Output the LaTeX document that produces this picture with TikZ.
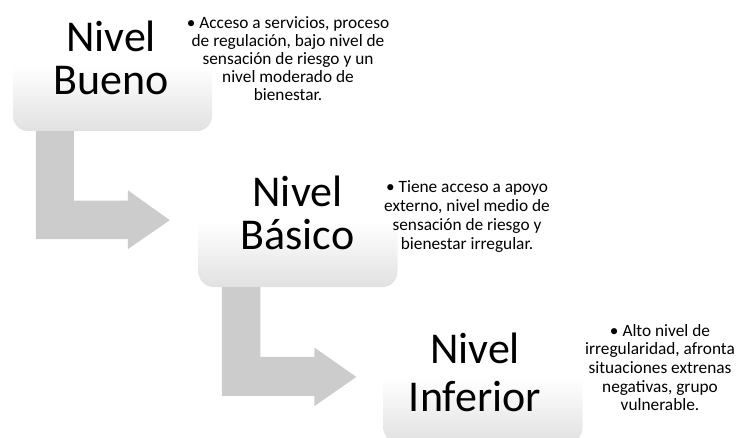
\documentclass[tikz,border=0pt]{standalone}
\usepackage{fontspec}
\setmainfont{Carlito}
\definecolor{boxgray}{RGB}{225,225,225}
\definecolor{arrowgray}{RGB}{204,204,204}
\pgfdeclareverticalshading{boxshade}{100bp}{color(0bp)=(boxgray); color(25bp)=(boxgray); color(52bp)=(white); color(100bp)=(white)}
\newcommand{\mystack}[2]{\vtop{\baselineskip=#1\lineskiplimit=-100pt\relax\halign{\hfil##\hfil\cr#2\crcr}}}
\tikzset{
  boxshape/.style={rectangle, rounded corners=15pt, minimum width=199pt, minimum height=120pt, inner sep=0pt, shading=boxshade, draw=none},
  bendarrow/.style={fill=arrowgray, draw=none},
  title/.style={anchor=base, inner sep=0pt, font=\fontsize{44}{42}\selectfont},
  desc/.style={anchor=base, inner sep=0pt, font=\fontsize{17.3}{18}\selectfont},
}
\begin{document}
\begin{tikzpicture}[x=1pt, y=-1pt]
\useasboundingbox (0,0) rectangle (738,438);
\clip (0,0) rectangle (738,438);
% boxes
\node[boxshape] (box1) at (112.5,71) {};
\node[boxshape] (box2) at (298,227) {};
\node[boxshape] (box3) at (483,383) {};
% bent arrows
\fill[bendarrow, shift={(box1.south west)}] (23,0) -- (61,0) -- (61,69.5) -- (115,69.5) -- (115,59) -- (157,89) -- (115,118) -- (115,108) -- (23,108) -- cycle;
\fill[bendarrow, shift={(box2.south west)}] (23.5,0) -- (62,0) -- (62,69.7) -- (116,69.7) -- (116,60.3) -- (158,89.7) -- (116,119) -- (116,108.7) -- (23.5,108.7) -- cycle;
% titles
\node[title] (t1) at (111,52) {\mystack{43pt}{Nivel\cr Bueno}};
\node[title] (t2) at (297.5,207) {\mystack{43pt}{Nivel\cr Básico}};
\node[title] (t3) at (475,363) {\mystack{48pt}{Nivel\cr Inferior}};
% descriptions
\node[desc] (d1) at (288,29) {\mystack{17.9pt}{• Acceso a servicios, proceso\cr de regulación, bajo nivel de\cr sensación de riesgo y un\cr nivel moderado de\cr bienestar.}};
\node[desc] (d2) at (467,193) {\mystack{18.8pt}{• Tiene acceso a apoyo\cr externo, nivel medio de\cr sensación de riesgo y\cr bienestar irregular.}};
\node[desc] (d3) at (660,336) {\mystack{18.7pt}{• Alto nivel de\cr irregularidad, afronta\cr situaciones extrenas\cr negativas, grupo\cr vulnerable.}};
\end{tikzpicture}
\end{document}
